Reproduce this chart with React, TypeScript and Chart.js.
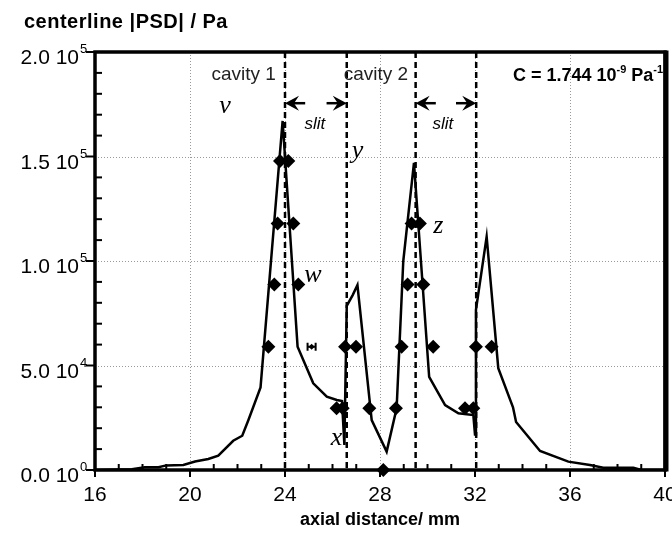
import { useEffect, useRef } from 'react';
import { Chart, registerables } from 'chart.js';

Chart.register(...registerables);

// ---------------- data ----------------
const X_MIN = 16;
const X_MAX = 40;
const X_STEP = 4;
const X_MINOR = 1;
const Y_MIN = 0;
const Y_MAX = 200000;
const Y_STEP = 50000;
const Y_MINOR = 10000;

const yTickValues = [0, 50000, 100000, 150000, 200000];
const yTickMantissa = ['0.0 10', '5.0 10', '1.0 10', '1.5 10', '2.0 10'];
const yTickExponent = ['0', '4', '5', '5', '5'];

// centerline |PSD| curve
const psdX = [16, 17.55, 18.1, 18.67, 19.0, 19.72, 20.21, 20.77, 21.19, 21.82, 22.2, 22.46, 22.97,
  23.9, 24.53, 25.19, 25.76, 26.18, 26.4, 26.5, 26.6, 26.85, 27.05, 27.65, 28.28, 28.7, 28.98,
  29.43, 30.07, 30.74, 31.3, 31.93, 32.0, 32.04, 32.49, 32.98, 33.6, 33.73, 34.74, 35.93, 36.84,
  37.4, 38.67, 39.0, 40];
const psdY = [0, 400, 1300, 1300, 2200, 2400, 4100, 5300, 6900, 14000, 16400, 23900, 39500,
  167000, 59000, 41500, 35100, 33500, 33000, 12000, 78500, 83700, 88500, 23900, 8800, 29500, 100000,
  147000, 44600, 31100, 27100, 26300, 17000, 76600, 111600, 48700, 30000, 23000, 9100, 4000, 2400,
  1100, 1100, 0, 0];

// measured points (diamonds)
const markX = [23.3, 23.55, 23.69, 23.79, 24.14, 24.35, 24.56, 26.17, 26.43, 26.53, 26.99, 27.55,
  28.14, 28.67, 28.91, 29.16, 29.33, 29.68, 29.82, 30.24, 31.58, 31.93, 32.04, 32.7];
const markY = [59000, 88800, 118000, 147800, 147800, 118000, 88800, 29500, 29500, 59000, 59000, 29500,
  0, 29500, 59000, 88800, 118000, 118000, 88800, 59000, 29500, 29500, 59000, 59000];

// point with horizontal error bar
const errX = [25.12];
const errY = [59000];
const errHalf = [0.17];

// cavity / slit boundaries (mm)
const boundaries = [24, 26.6, 29.5, 32.05];
const slits = [[24, 26.6], [29.5, 32.05]];
const slitArrowY = 175500;
const slitArrowLen = 0.85;

const FONT = "'Liberation Sans', Arial, Helvetica, sans-serif";
const SERIF = "'Liberation Serif', 'Times New Roman', serif";

type Ann = { text: string; x: number; y: number; font: string; align: CanvasTextAlign; color?: string };
const annotations: Ann[] = [
  { text: 'cavity 1', x: 22.26, y: 186600, font: `19px ${FONT}`, align: 'center', color: '#222' },
  { text: 'cavity 2', x: 27.83, y: 186600, font: `19px ${FONT}`, align: 'center', color: '#222' },
  { text: 'slit', x: 25.26, y: 163000, font: `italic 17px ${FONT}`, align: 'center' },
  { text: 'slit', x: 30.65, y: 163000, font: `italic 17px ${FONT}`, align: 'center' },
  { text: 'v', x: 21.47, y: 170800, font: `italic 26px ${SERIF}`, align: 'center' },
  { text: 'w', x: 25.18, y: 90100, font: `italic 26px ${SERIF}`, align: 'center' },
  { text: 'x', x: 26.17, y: 12000, font: `italic 26px ${SERIF}`, align: 'center' },
  { text: 'y', x: 27.05, y: 149300, font: `italic 26px ${SERIF}`, align: 'center' },
  { text: 'z', x: 30.46, y: 113400, font: `italic 26px ${SERIF}`, align: 'center' },
];

const constLabel = { x: 39.92, y: 186300 };
const constParts = [
  { t: 'C = 1.744 10', sup: false },
  { t: '-9', sup: true },
  { t: ' Pa', sup: false },
  { t: '-1', sup: true },
];

const titleText = 'centerline |PSD| / Pa';
const xTitle = 'axial distance/ mm';

function range(a: number, b: number, s: number) {
  const out: number[] = [];
  for (let v = a; v <= b + 1e-9; v += s) out.push(Math.round(v * 1000) / 1000);
  return out;
}

const decor = {
  id: 'decor',
  beforeDatasetsDraw(chart: any) {
    const { ctx, chartArea: a, scales } = chart;
    const x = scales.x;
    const y = scales.y;
    ctx.save();
    // dotted grid
    ctx.strokeStyle = '#9a9a9a';
    ctx.lineWidth = 1;
    ctx.setLineDash([1, 2]);
    for (const v of range(X_MIN + X_STEP, X_MAX - X_STEP, X_STEP)) {
      const px = Math.round(x.getPixelForValue(v)) + 0.5;
      ctx.beginPath(); ctx.moveTo(px, a.top); ctx.lineTo(px, a.bottom); ctx.stroke();
    }
    for (const v of range(Y_MIN + Y_STEP, Y_MAX - Y_STEP, Y_STEP)) {
      const py = Math.round(y.getPixelForValue(v)) + 0.5;
      ctx.beginPath(); ctx.moveTo(a.left, py); ctx.lineTo(a.right, py); ctx.stroke();
    }
    // boundaries
    ctx.strokeStyle = '#000';
    ctx.lineWidth = 2.5;
    ctx.setLineDash([6, 4]);
    for (const b of boundaries) {
      const px = x.getPixelForValue(b);
      ctx.beginPath(); ctx.moveTo(px, a.top); ctx.lineTo(px, a.bottom); ctx.stroke();
    }
    ctx.setLineDash([]);
    // frame
    ctx.lineWidth = 3.5;
    ctx.strokeStyle = '#000';
    ctx.strokeRect(a.left, a.top, a.right - a.left, a.bottom - a.top);
    ctx.lineWidth = 5;
    ctx.beginPath(); ctx.moveTo(a.right + 1, a.top - 1.5); ctx.lineTo(a.right + 1, a.bottom + 1.5); ctx.stroke();
    // ticks
    ctx.lineWidth = 2;
    for (const v of range(X_MIN, X_MAX, X_MINOR)) {
      const px = x.getPixelForValue(v);
      const major = Math.abs((v - X_MIN) % X_STEP) < 1e-6;
      ctx.beginPath();
      if (major) { ctx.moveTo(px, a.bottom); ctx.lineTo(px, a.bottom + 7); }
      else { ctx.moveTo(px, a.bottom); ctx.lineTo(px, a.bottom - 6); }
      ctx.stroke();
    }
    for (const v of range(Y_MIN, Y_MAX, Y_MINOR)) {
      const py = y.getPixelForValue(v);
      const major = Math.abs((v - Y_MIN) % Y_STEP) < 1e-6;
      ctx.beginPath();
      if (major) { ctx.moveTo(a.left - 9, py); ctx.lineTo(a.left, py); }
      else { ctx.moveTo(a.left, py); ctx.lineTo(a.left + 7, py); }
      ctx.stroke();
    }
    ctx.restore();
  },
  afterDatasetsDraw(chart: any) {
    const { ctx, scales, chartArea: a } = chart;
    const x = scales.x;
    const y = scales.y;
    ctx.save();
    ctx.fillStyle = '#000';
    ctx.strokeStyle = '#000';
    // y tick labels with superscript exponents
    ctx.textBaseline = 'alphabetic';
    yTickValues.forEach((v, i) => {
      const py = y.getPixelForValue(v);
      ctx.font = `21px ${FONT}`;
      ctx.textAlign = 'right';
      ctx.fillText(yTickMantissa[i], a.left - 16, py + 12);
      ctx.font = `13px ${FONT}`;
      ctx.textAlign = 'left';
      ctx.fillText(yTickExponent[i], a.left - 15, py + 1);
    });
    // error-bar marker
    ctx.lineWidth = 2;
    errX.forEach((ex, i) => {
      const l = x.getPixelForValue(ex - errHalf[i]);
      const r = x.getPixelForValue(ex + errHalf[i]);
      const py = y.getPixelForValue(errY[i]);
      ctx.beginPath();
      ctx.moveTo(l, py); ctx.lineTo(r, py);
      ctx.moveTo(l, py - 4); ctx.lineTo(l, py + 4);
      ctx.moveTo(r, py - 4); ctx.lineTo(r, py + 4);
      ctx.stroke();
    });
    // slit arrows
    const ay = y.getPixelForValue(slitArrowY);
    const arrow = (tip: number, tail: number) => {
      const dir = tail > tip ? 1 : -1;
      ctx.lineWidth = 2.5;
      ctx.beginPath(); ctx.moveTo(tip + dir * 6, ay); ctx.lineTo(tail, ay); ctx.stroke();
      ctx.beginPath();
      ctx.moveTo(tip, ay);
      ctx.lineTo(tip + dir * 14, ay - 7.5);
      ctx.lineTo(tip + dir * 9, ay);
      ctx.lineTo(tip + dir * 14, ay + 7.5);
      ctx.closePath();
      ctx.fill();
    };
    for (const [s0, s1] of slits) {
      arrow(x.getPixelForValue(s0), x.getPixelForValue(s0 + slitArrowLen));
      arrow(x.getPixelForValue(s1), x.getPixelForValue(s1 - slitArrowLen));
    }
    // annotations
    for (const an of annotations) {
      ctx.font = an.font;
      ctx.textAlign = an.align;
      ctx.fillStyle = an.color || '#000';
      ctx.fillText(an.text, x.getPixelForValue(an.x), y.getPixelForValue(an.y));
    }
    // constant label with superscripts
    ctx.fillStyle = '#000';
    ctx.textAlign = 'left';
    const base = `bold 18px ${FONT}`;
    const sup = `bold 11px ${FONT}`;
    let w = 0;
    for (const p of constParts) { ctx.font = p.sup ? sup : base; w += ctx.measureText(p.t).width; }
    let cx = x.getPixelForValue(constLabel.x) - w;
    const cy = y.getPixelForValue(constLabel.y);
    for (const p of constParts) {
      ctx.font = p.sup ? sup : base;
      ctx.fillText(p.t, cx, p.sup ? cy - 8 : cy);
      cx += ctx.measureText(p.t).width;
    }
    // chart title (y quantity)
    ctx.font = `bold 20px ${FONT}`;
    ctx.textAlign = 'left';
    try { (ctx as any).letterSpacing = '0.5px'; } catch (e) { /* ignore */ }
    ctx.fillText(titleText, 24, 28);
    try { (ctx as any).letterSpacing = '0px'; } catch (e) { /* ignore */ }
    ctx.restore();
  },
};

export default function App() {
  const ref = useRef<HTMLCanvasElement | null>(null);
  useEffect(() => {
    if (!ref.current) return;
    const chart = new Chart(ref.current, {
      type: 'scatter',
      data: {
        datasets: [
          {
            label: 'PSD',
            data: psdX.map((v, i) => ({ x: v, y: psdY[i] })),
            showLine: true,
            borderColor: '#000',
            borderWidth: 2.5,
            pointRadius: 0,
            tension: 0,
            fill: false,
            order: 2,
          },
          {
            label: 'measured',
            data: markX.map((v, i) => ({ x: v, y: markY[i] })),
            showLine: false,
            pointStyle: 'rectRot',
            pointRadius: 7,
            backgroundColor: '#000',
            borderColor: '#000',
            borderWidth: 0,
            clip: false,
            order: 1,
          },
          {
            label: 'error',
            data: errX.map((v, i) => ({ x: v, y: errY[i] })),
            showLine: false,
            pointStyle: 'rectRot',
            pointRadius: 3,
            backgroundColor: '#000',
            borderColor: '#000',
            borderWidth: 0,
            order: 1,
          },
        ],
      },
      options: {
        animation: false,
        responsive: true,
        maintainAspectRatio: false,
        events: [],
        layout: { padding: { left: 0, right: 7, top: 52, bottom: 0 } },
        plugins: { legend: { display: false }, tooltip: { enabled: false }, title: { display: false } },
        scales: {
          x: {
            type: 'linear',
            min: X_MIN,
            max: X_MAX,
            grid: { display: false },
            border: { display: false },
            ticks: {
              stepSize: X_STEP,
              color: '#000',
              font: { family: FONT, size: 21 },
              padding: 5,
              maxRotation: 0,
              autoSkip: false,
            },
            title: {
              display: true,
              text: xTitle,
              color: '#000',
              font: { family: FONT, size: 18, weight: 'bold' },
              padding: { top: 0, bottom: 7 },
            },
            afterFit: (s: any) => { s.height = 68; s.paddingLeft = 0; s.paddingRight = 0; },
          },
          y: {
            type: 'linear',
            min: Y_MIN,
            max: Y_MAX,
            grid: { display: false },
            border: { display: false },
            ticks: { display: false, stepSize: Y_STEP },
            afterFit: (s: any) => { s.width = 95; s.paddingTop = 0; s.paddingBottom = 0; },
          },
        },
      },
      plugins: [decor],
    } as any);
    return () => chart.destroy();
  }, []);
  return (
    <div style={{ position: 'absolute', left: 0, top: 0, width: 672, height: 538 }}>
      <canvas ref={ref} />
    </div>
  );
}
